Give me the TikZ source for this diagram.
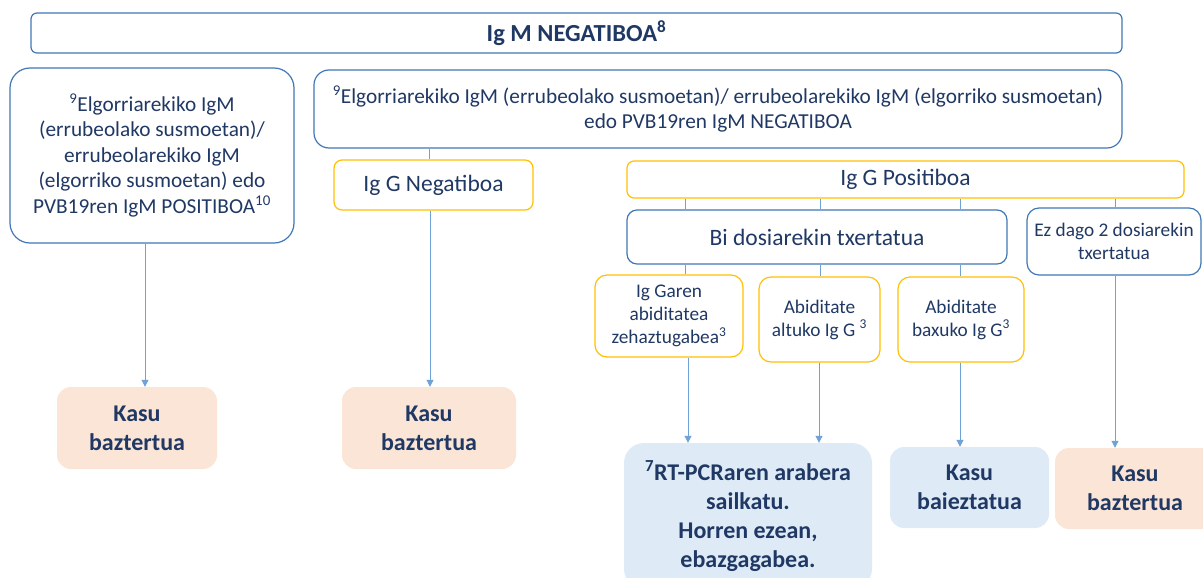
\documentclass[tikz,border=0pt]{standalone}
\usepackage{fontspec}
\setmainfont{Carlito}
\usetikzlibrary{arrows.meta}
\definecolor{navy}{HTML}{203864}
\definecolor{boxblue}{HTML}{4177B4}
\definecolor{boxyellow}{HTML}{FFC000}
\definecolor{linkblue}{HTML}{6FA3D8}
\definecolor{peach}{HTML}{FBE5D6}
\definecolor{paleblue}{HTML}{DEEBF7}
\begin{document}
\begin{tikzpicture}[x=1pt, y=-1pt,
    every node/.style={align=center, text=navy, inner sep=0pt},
    bluebox/.style={draw=boxblue, line width=1.2pt, rounded corners=#1},
    yellowbox/.style={draw=boxyellow, line width=1.2pt, rounded corners=#1},
    casebox/.style={fill=#1, rounded corners=14pt, font=\fontsize{24}{29}\selectfont\bfseries},
    link/.style={draw=linkblue, line width=1pt},
    arr/.style={link, -{Triangle[width=7pt, length=7pt]}},
    txt/.style={font=\fontsize{21.3}{25}\selectfont},
    bigtxt/.style={font=\fontsize{23.5}{26}\selectfont},
    smalltxt/.style={font=\fontsize{19.3}{23}\selectfont}]
  \useasboundingbox (0,0) rectangle (1203,578);
  \clip (0,0) rectangle (1203,578);
  % top row
  \node[bluebox=6pt, minimum width=1091, minimum height=40,
    font=\fontsize{24.5}{28}\selectfont\bfseries] (igm) at (576.5,33)
    {Ig M NEGATIBOA\textsuperscript{8}};
  \node[bluebox=20pt, txt, font=\fontsize{21.3}{25.5}\selectfont, minimum width=284, minimum height=175] (posleft) at (152,155.5)
    {\textsuperscript{9}Elgorriarekiko IgM\\(errubeolako susmoetan)/\\errubeolarekiko IgM\\(elgorriko susmoetan) edo\\PVB19ren IgM POSITIBOA\textsuperscript{10}};
  \node[bluebox=15pt, txt, minimum width=808, minimum height=78] (negmid) at (718,109)
    {\textsuperscript{9}Elgorriarekiko IgM (errubeolako susmoetan)/ errubeolarekiko IgM (elgorriko susmoetan)\\edo PVB19ren IgM NEGATIBOA};
  % Ig G
  \node[yellowbox=8pt, bigtxt, minimum width=199, minimum height=50] (ggneg) at (433.5,185) {Ig G Negatiboa};
  \node[yellowbox=7pt, bigtxt, minimum width=557, minimum height=37] (ggpos) at (905.5,179.5) {Ig G Positiboa};
  \node[bluebox=10pt, bigtxt, minimum width=380, minimum height=54] (bidosi) at (817,237) {Bi dosiarekin txertatua};
  \node[bluebox=12pt, smalltxt, minimum width=174, minimum height=67] (ezdago) at (1114,241.5) {Ez dago 2 dosiarekin\\txertatua};
  % abiditatea
  \node[yellowbox=12pt, smalltxt, minimum width=148, minimum height=82] (zehaz) at (669,316)
    {Ig Garen\\abiditatea\\zehaztugabea\textsuperscript{3}};
  \node[yellowbox=12pt, smalltxt, minimum width=121, minimum height=85] (altuko) at (819.5,319.5)
    {Abiditate\\altuko Ig G \textsuperscript{3}};
  \node[yellowbox=12pt, smalltxt, minimum width=126, minimum height=85] (baxuko) at (961,319.5)
    {Abiditate\\baxuko Ig G\textsuperscript{3}};
  % outcomes
  \node[casebox=peach, minimum width=160, minimum height=82] (baz1) at (137,428) {Kasu\\baztertua};
  \node[casebox=peach, minimum width=174, minimum height=82] (baz2) at (429,428) {Kasu\\baztertua};
  \node[casebox=paleblue, rounded corners=20pt, minimum width=248, minimum height=146] (rtpcr) at (748,516)
    {\textsuperscript{7}RT-PCRaren arabera\\sailkatu.\\Horren ezean,\\ebazgagabea.};
  \node[casebox=paleblue, minimum width=159, minimum height=81] (baiez) at (969.5,487.5) {Kasu\\baieztatua};
  \node[casebox=peach, minimum width=160, minimum height=81] (baz3) at (1135,488.5) {Kasu\\baztertua};
  % connectors
  \draw[link] (negmid.south -| 429,0) -- (ggneg.north -| 429,0);
  \foreach \x/\a/\b in {685/ggpos/bidosi, 820/ggpos/bidosi, 960/ggpos/bidosi, 1115/ggpos/ezdago,
                        685/bidosi/zehaz, 820/bidosi/altuko, 960/bidosi/baxuko} {
    \draw[link] (\a.south -| \x,0) -- (\b.north -| \x,0);
  }
  \foreach \x/\a/\b in {145/posleft/baz1, 430/ggneg/baz2, 688/zehaz/rtpcr, 819/altuko/rtpcr,
                        960/baxuko/baiez, 1115/ezdago/baz3} {
    \draw[arr] (\a.south -| \x,0) -- (\b.north -| \x,0);
  }
\end{tikzpicture}
\end{document}
